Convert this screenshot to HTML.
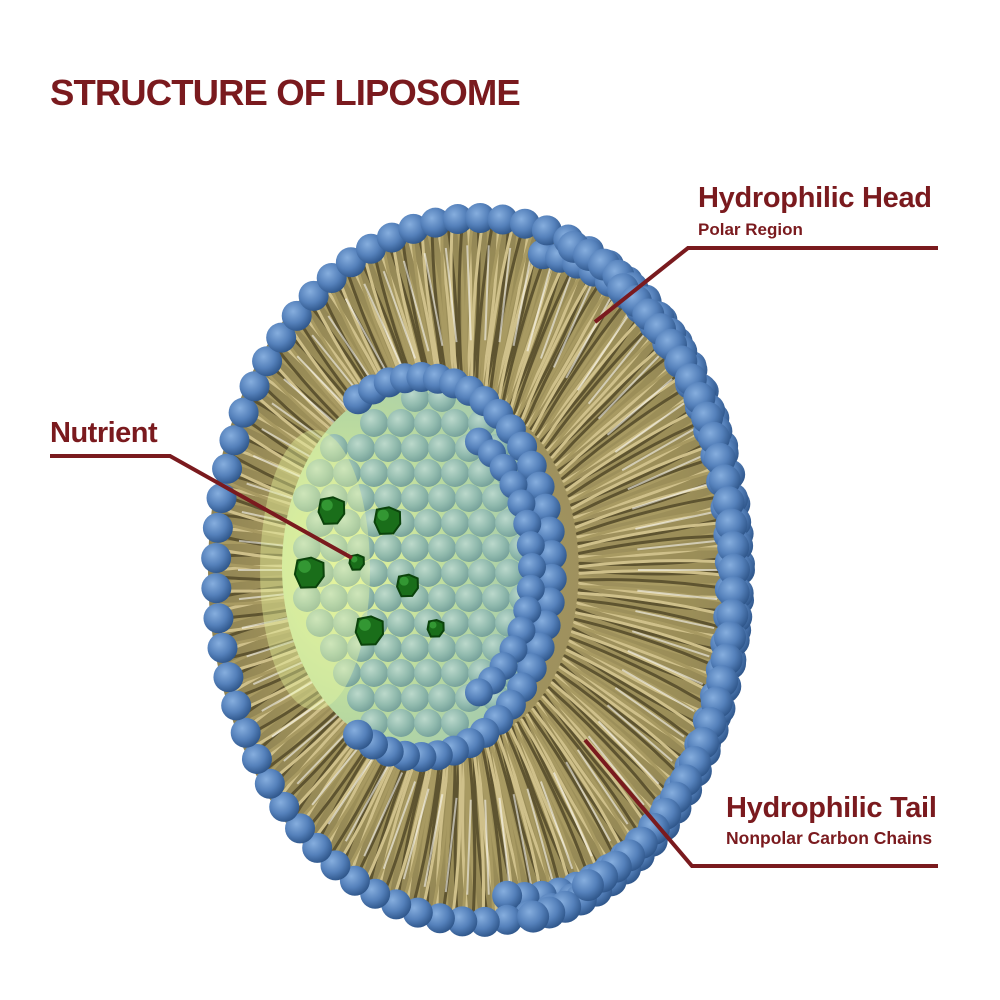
<!DOCTYPE html>
<html><head><meta charset="utf-8">
<style>
html,body{margin:0;padding:0;background:#fff;}
#wrap{position:relative;width:1000px;height:1000px;overflow:hidden;background:#fff;font-family:"Liberation Sans",sans-serif;color:#7a1a1e;}
.t{position:absolute;font-weight:bold;white-space:nowrap;}
</style></head>
<body><div id="wrap">
<svg id="s" width="1000" height="1000" viewBox="0 0 1000 1000" style="position:absolute;left:0;top:0">
<defs>
<radialGradient id="bead" cx="0.38" cy="0.35" r="0.7">
<stop offset="0" stop-color="#86aede"/><stop offset="0.55" stop-color="#5581bb"/><stop offset="1" stop-color="#2c5387"/>
</radialGradient>
<radialGradient id="tb" cx="0.38" cy="0.35" r="0.7">
<stop offset="0" stop-color="#bcd9cf"/><stop offset="0.6" stop-color="#8db7ae"/><stop offset="1" stop-color="#6e9a97"/>
</radialGradient>
<radialGradient id="glow" cx="0.25" cy="0.5" r="0.8">
<stop offset="0" stop-color="#e6f59a"/><stop offset="0.5" stop-color="#b8d9a0"/><stop offset="1" stop-color="#9cc4b4"/>
</radialGradient>
<radialGradient id="olive" cx="0.5" cy="0.5" r="0.5">
<stop offset="0" stop-color="#a29463"/><stop offset="0.8" stop-color="#9b8e58"/><stop offset="1" stop-color="#8f8354"/>
</radialGradient>
</defs>
<g id="g"></g>
</svg>
<div class="t" style="left:50px;top:72px;font-size:36.5px;letter-spacing:-0.9px;">STRUCTURE OF LIPOSOME</div>
<div class="t" style="left:698px;top:182px;font-size:29px;letter-spacing:-0.3px;">Hydrophilic Head</div>
<div class="t" style="left:698px;top:220px;font-size:17px;">Polar Region</div>
<div class="t" style="left:50px;top:417px;font-size:29px;letter-spacing:-0.5px;">Nutrient</div>
<div class="t" style="left:726px;top:792px;font-size:29px;letter-spacing:-0.3px;">Hydrophilic Tail</div>
<div class="t" style="left:726px;top:828px;font-size:17.5px;">Nonpolar Carbon Chains</div>
</div>
<script>
var NS="http://www.w3.org/2000/svg",g=document.getElementById("g");
function el(n,a){var e=document.createElementNS(NS,n);for(var k in a)e.setAttribute(k,a[k]);g.appendChild(e);return e;}
el("ellipse",{cx:478,cy:570,rx:270,ry:360,fill:"url(#olive)"});
for(var i=0;i<320;i++){var a=i/320*Math.PI*2;var c=Math.cos(a),s=Math.sin(a);
 var x1=478+262*c,y1=570+352*s,x2=470+110*c,y2=570+170*s;
 var w=(i%2?1:-1)*8;
 var mx=(x1+x2)/2+w*s,my=(y1+y2)/2-w*c;
 el("path",{d:"M"+x1+" "+y1+" Q"+mx+" "+my+" "+x2+" "+y2,stroke:(i%3==0?"#5e5430":(i%3==1?"#cfc08a":"#a89a62")),"stroke-width":3,fill:"none","stroke-linecap":"round"});}
for(var i=0;i<70;i++){var a=i/70*Math.PI*2;var c=Math.cos(a),s=Math.sin(a);
 el("line",{x1:478+240*c,y1:570+325*s,x2:478+160*c,y2:570+230*s,stroke:"#fff","stroke-width":2,opacity:0.55});}
function ring(cx,cy,rx,ry,a0,a1,n,r,f){for(var i=0;i<n;i++){var a=(a0+(a1-a0)*i/(n-1))*Math.PI/180;el("circle",{cx:cx+rx*Math.cos(a),cy:cy+ry*Math.sin(a),r:r,fill:f});}}
ring(525,575,205,322,-85,95,38,15,"url(#bead)");
ring(478,570,262,352,0,359,74,15,"url(#bead)");
ring(500,575,238,345,-72,82,40,16,"url(#bead)");
ring(512,575,222,330,-60,70,34,16,"url(#bead)");
el("ellipse",{cx:420,cy:567,rx:138,ry:185,fill:"url(#glow)"});
for(var y=398;y<=745;y+=25){for(var x=280;x<=570;x+=27){var xx=x+(Math.round(y/25)%2?13:0);var dx=(xx-420)/132,dy=(y-567)/180;if(dx*dx+dy*dy<0.92)el("circle",{cx:xx,cy:y,r:14,fill:"url(#tb)",opacity:0.92});}}
el("ellipse",{cx:315,cy:570,rx:55,ry:140,fill:"#e8f7a0",opacity:0.4});
ring(420,567,132,190,-118,118,34,15,"url(#bead)");
ring(432,567,100,142,-62,62,15,14,"url(#bead)");
[[332,510,16],[388,520,16],[310,572,18],[357,562,9],[408,585,13],[370,630,17],[436,628,10]].forEach(function(p){var pts=[];for(var k=0;k<7;k++){var a=k/7*Math.PI*2+0.3,rr=p[2]*(0.8+0.2*((k*37)%5)/4);pts.push((p[0]+rr*Math.cos(a))+","+(p[1]+rr*Math.sin(a)));}
 el("polygon",{points:pts.join(" "),fill:"#1a6e1a",stroke:"#0b430b","stroke-width":2});
 el("circle",{cx:p[0]-p[2]*0.3,cy:p[1]-p[2]*0.3,r:p[2]*0.35,fill:"#3ea83e",opacity:0.7});});
var L={stroke:"#7a1a1e","stroke-width":4,fill:"none"};
L.points="938,248 688,248 595,322";el("polyline",L);
L=Object.assign({},L);L.points="50,456 170,456 352,558";el("polyline",L);
L=Object.assign({},L);L.points="938,866 692,866 585,740";el("polyline",L);
</script>
</body></html>
